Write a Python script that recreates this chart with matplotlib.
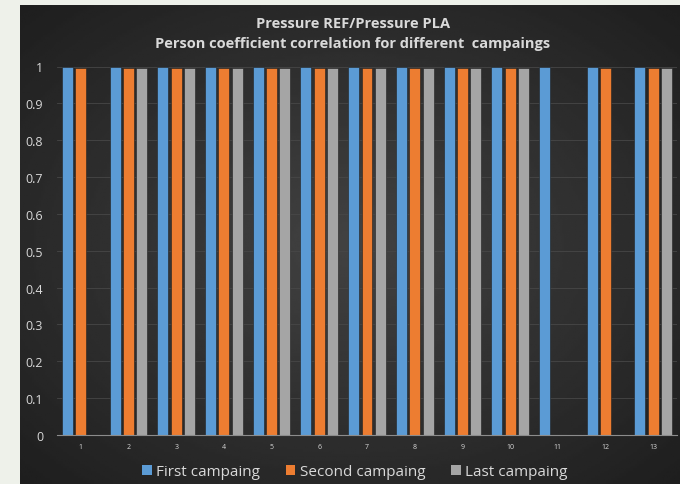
import numpy as np
import matplotlib
matplotlib.use("Agg")
import matplotlib.pyplot as plt
from matplotlib.patches import Patch

plt.rcParams['font.family'] = ['Open Sans', 'DejaVu Sans']

# data (nan = no bar)
campaigns = [str(i) for i in range(1, 14)]
first = [1.0, 1.0, 1.0, 1.0, 1.0, 1.0, 1.0, 1.0, 1.0, 1.0, 1.0, 1.0, 1.0]
second = [0.996, 0.996, 0.996, 0.996, 0.996, 0.996, 0.996, 0.996, 0.996, 0.996, np.nan, 0.997, 0.996]
last = [np.nan, 0.997, 0.997, 0.997, 0.997, 0.997, 0.997, 0.997, 0.997, 0.997, np.nan, np.nan, 0.997]

series_names = ["First campaing", "Second campaing", "Last campaing"]
colors = ["#5b9bd5", "#ed7d31", "#a5a5a5"]
txt = "#d9d9d9"

fig = plt.figure(figsize=(6.8, 4.85), dpi=100)
fig.patch.set_facecolor("#eef1ea")

# dark panel with a soft radial gradient
bg = fig.add_axes([20 / 680, 0, 660 / 680, 479 / 485])
yy, xx = np.mgrid[-1:1:200j, -1:1:300j]
r = np.sqrt(xx ** 2 + yy ** 2)
bg.imshow(0.26 - 0.1 * r, cmap="gray", vmin=0, vmax=1, aspect="auto",
          extent=[0, 1, 0, 1])
bg.set_axis_off()

ax = fig.add_axes([57 / 680, (485 - 436) / 485, 620 / 680, 368.5 / 485])
ax.set_facecolor("none")

x = np.arange(1, len(campaigns) + 1)
w = 0.23
step = 0.28
for i, (vals, c) in enumerate(zip([first, second, last], colors)):
    ax.bar(x + (i - 1) * step, vals, width=w, color=c, edgecolor="#202020",
           linewidth=0.4, zorder=3)

ax.set_xlim(0.5, 13.5)
ax.set_ylim(0, 1)
ax.set_yticks(np.round(np.arange(0, 1.01, 0.1), 1))
ax.set_yticklabels(["0", "0.1", "0.2", "0.3", "0.4", "0.5", "0.6", "0.7",
                    "0.8", "0.9", "1"])
ax.set_xticks(x)
ax.set_xticklabels(campaigns)
ax.tick_params(axis="y", length=0, labelsize=9, colors=txt, pad=10)
ax.tick_params(axis="x", length=0, labelsize=5, colors=txt, pad=6)
ax.grid(axis="y", color="#474747", linewidth=0.6, zorder=0)
for s in ["top", "right", "left"]:
    ax.spines[s].set_visible(False)
ax.spines["bottom"].set_color("#8c8c8c")
ax.spines["bottom"].set_linewidth(0.8)
ax.spines["bottom"].set_zorder(4)

fig.text(353 / 680, 1 - 28 / 485, "Pressure REF/Pressure PLA",
         ha="center", va="baseline", fontsize=10.5, fontweight="bold", color=txt)
fig.text(353 / 680, 1 - 48 / 485,
         "Person coefficient correlation for different  campaings",
         ha="center", va="baseline", fontsize=10.5, fontweight="bold", color=txt)

handles = [Patch(facecolor=c, edgecolor="none") for c in colors]
fig.legend(handles, series_names, loc="center", bbox_to_anchor=(355 / 680, 1 - 473 / 485),
           ncol=3, frameon=False, fontsize=11, labelcolor=txt,
           handlelength=0.6, handleheight=0.6, handletextpad=0.3, columnspacing=1.7)

fig.savefig("out.png", dpi=100, facecolor=fig.get_facecolor())
